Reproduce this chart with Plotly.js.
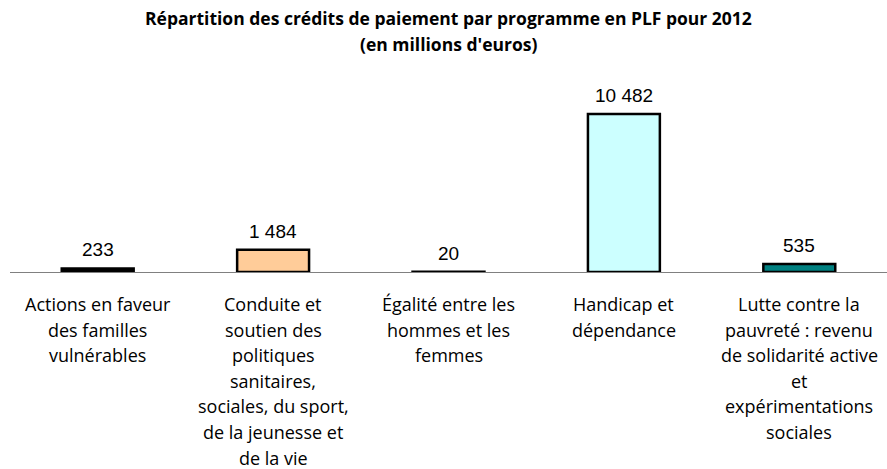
<!DOCTYPE html>
<html><head><meta charset="utf-8">
<script src="https://cdn.plot.ly/plotly-3.0.1.min.js"></script>
<style>html,body{margin:0;padding:0;background:#fff}#chart{width:887px;height:469px}</style>
</head><body><div id="chart"></div>
<script>
const categories = [
  "Actions en faveur des familles vulnérables",
  "Conduite et soutien des politiques sanitaires, sociales, du sport, de la jeunesse et de la vie",
  "Égalité entre les hommes et les femmes",
  "Handicap et dépendance",
  "Lutte contre la pauvreté : revenu de solidarité active et expérimentations sociales"
];
const labelLines = [
  ["Actions en faveur", "des familles", "vulnérables"],
  ["Conduite et", "soutien des", "politiques", "sanitaires,", "sociales, du sport,", "de la jeunesse et", "de la vie"],
  ["Égalité entre les", "hommes et les", "femmes"],
  ["Handicap et", "dépendance"],
  ["Lutte contre la", "pauvreté : revenu", "de solidarité active", "et", "expérimentations", "sociales"]
];
const values = [233, 1484, 20, 10482, 535];
const valueLabels = ["233", "1 484", "20", "10 482", "535"];
const fillColors = ["#000000", "#FFCC99", "#000000", "#CCFFFF", "#008080"];
const titleLines = ["Répartition des crédits de paiement par programme en PLF pour 2012", "(en millions d'euros)"];

const annotations = [];
titleLines.forEach((t, i) => annotations.push({
  text: "<b>" + t + "</b>", xref: "paper", yref: "paper", x: 0.5, y: 1,
  xanchor: "center", yanchor: "middle", yshift: 62 - 26 * i, showarrow: false,
  font: {family: "Open Sans", size: 17.5, color: "#000"}
}));
categories.forEach((c, i) => {
  annotations.push({
    text: valueLabels[i], x: c, y: values[i], xref: "x", yref: "y",
    xanchor: "center", yanchor: "bottom", yshift: 6, showarrow: false,
    font: {family: "Liberation Sans", size: 19, color: "#000"}
  });
  labelLines[i].forEach((l, j) => annotations.push({
    text: l, x: c, y: 0, xref: "x", yref: "y", xanchor: "center", yanchor: "middle",
    yshift: -(32 + 25.6 * j), showarrow: false,
    font: {family: "Open Sans", size: 18, color: "#000"}
  }));
});

Plotly.newPlot("chart", [{
  type: "bar", x: categories, y: values,
  marker: {color: fillColors, line: {color: "#000", width: 2.5}},
  hoverinfo: "none"
}], {
  width: 887, height: 469,
  margin: {l: 10, r: 0, t: 80, b: 197},
  paper_bgcolor: "#fff", plot_bgcolor: "#fff",
  bargap: 0.59, showlegend: false,
  xaxis: {showticklabels: false, showline: true, linecolor: "#808080", linewidth: 1, ticks: "", showgrid: false, zeroline: false, fixedrange: true},
  yaxis: {visible: false, range: [0, 12740], showgrid: false, zeroline: false},
  annotations: annotations
}, {staticPlot: true});
</script></body></html>
